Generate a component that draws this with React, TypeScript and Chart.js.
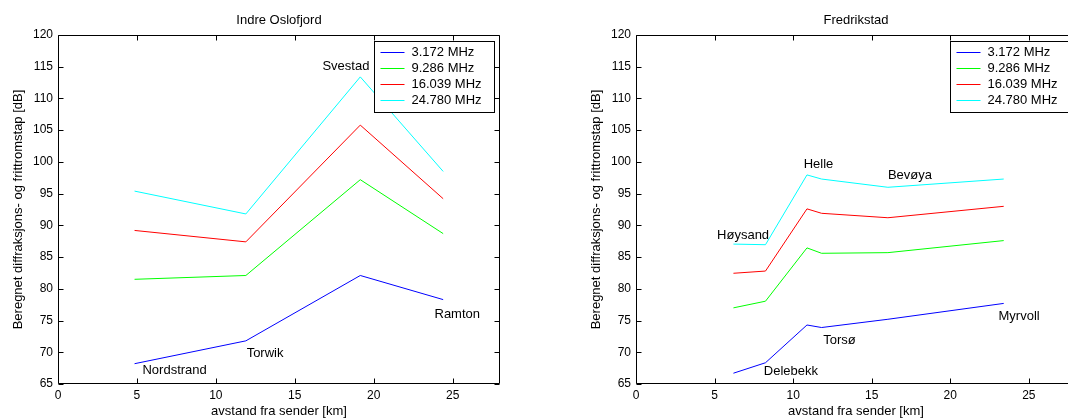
import { useEffect, useRef } from "react";
import { Chart, registerables } from "chart.js";

Chart.register(...registerables);

const FONT = "'Liberation Sans', Arial, Helvetica, sans-serif";

const SERIES_LABELS = ["3.172 MHz", "9.286 MHz", "16.039 MHz", "24.780 MHz"];
const SERIES_COLORS = ["#0000ff", "#00ff00", "#ff0000", "#00ffff"];
const X_TICKS = [0, 5, 10, 15, 20, 25];
const Y_TICKS = [65, 70, 75, 80, 85, 90, 95, 100, 105, 110, 115, 120];
const X_TITLE = "avstand fra sender [km]";
const Y_TITLE = "Beregnet diffraksjons- og frittromstap [dB]";

// Indre Oslofjord
const OSLO_TITLE = "Indre Oslofjord";
const OSLO_DIST = [4.85, 11.9, 19.15, 24.4];
const OSLO_3172 = [68.2, 71.8, 82.1, 78.3];
const OSLO_9286 = [81.5, 82.1, 97.2, 88.7];
const OSLO_16039 = [89.2, 87.4, 105.8, 94.2];
const OSLO_24780 = [95.4, 91.8, 113.4, 98.5];
const OSLO_SITES = ["Nordstrand", "Torwik", "Svestad", "Ramton"];
const OSLO_SITE_X = [5.35, 11.95, 16.75, 23.85];
const OSLO_SITE_Y = [67.2, 69.8, 115.0, 75.9];

// Fredrikstad
const FRED_TITLE = "Fredrikstad";
const FRED_DIST = [6.2, 8.24, 10.88, 11.81, 16.03, 23.4];
const FRED_3172 = [66.7, 68.35, 74.3, 73.9, 75.2, 77.7];
const FRED_9286 = [77.0, 78.05, 86.45, 85.6, 85.7, 87.6];
const FRED_16039 = [82.45, 82.8, 92.6, 91.9, 91.2, 93.0];
const FRED_24780 = [87.05, 86.95, 97.95, 97.3, 96.0, 97.3];
const FRED_SITES = ["Høysand", "Delebekk", "Helle", "Torsø", "Bevøya", "Myrvoll"];
const FRED_SITE_X = [5.16, 8.13, 10.67, 11.92, 16.03, 23.07];
const FRED_SITE_Y = [88.4, 67.0, 99.6, 71.8, 97.9, 75.7];

const matlabPlugin = {
  id: "matlabDecor",
  afterDraw(chart: any, _args: any, opts: any) {
    const { ctx, chartArea, scales } = chart;
    const { left, right, top, bottom } = chartArea;
    const xs = scales.x;
    const ys = scales.y;
    ctx.save();
    ctx.strokeStyle = "#000";
    ctx.lineWidth = 1;
    const L = Math.round(left) + 0.5;
    const R = Math.round(right) - 0.5;
    const T = Math.round(top) + 0.5;
    const B = Math.round(bottom) - 0.5;
    ctx.beginPath();
    ctx.rect(L, T, R - L, B - T);
    ctx.stroke();
    const tl = 5;
    ctx.beginPath();
    X_TICKS.forEach((v) => {
      const px = Math.round(xs.getPixelForValue(v)) + 0.5;
      ctx.moveTo(px, B);
      ctx.lineTo(px, B - tl);
      ctx.moveTo(px, T);
      ctx.lineTo(px, T + tl);
    });
    Y_TICKS.forEach((v) => {
      const py = Math.round(ys.getPixelForValue(v)) + 0.5;
      ctx.moveTo(L, py);
      ctx.lineTo(L + tl, py);
      ctx.moveTo(R, py);
      ctx.lineTo(R - tl, py);
    });
    ctx.stroke();

    // site labels
    ctx.fillStyle = "#000";
    ctx.font = `13px ${FONT}`;
    ctx.textAlign = "left";
    ctx.textBaseline = "middle";
    (opts.sites || []).forEach((s: string, i: number) => {
      ctx.fillText(s, xs.getPixelForValue(opts.siteX[i]), ys.getPixelForValue(opts.siteY[i]));
    });

    // title
    ctx.textAlign = "center";
    ctx.fillText(opts.title, (left + right) / 2, 20);

    // legend
    const bw = 120;
    const bh = 71;
    const bx = Math.round(right - 6 - bw) + 0.5;
    const by = Math.round(top + 6) + 0.5;
    ctx.fillStyle = "#fff";
    ctx.fillRect(bx, by, bw, bh);
    ctx.strokeStyle = "#000";
    ctx.strokeRect(bx, by, bw, bh);
    ctx.textAlign = "left";
    chart.data.datasets.forEach((ds: any, i: number) => {
      const ry = Math.round(by + 10.5 + 16 * i) + 0.5;
      ctx.strokeStyle = ds.borderColor;
      ctx.beginPath();
      ctx.moveTo(bx + 6, ry);
      ctx.lineTo(bx + 30, ry);
      ctx.stroke();
      ctx.fillStyle = "#000";
      ctx.fillText(ds.label, bx + 37, ry);
    });
    ctx.restore();
  },
};

function makeConfig(
  title: string,
  dist: number[],
  series: number[][],
  sites: string[],
  siteX: number[],
  siteY: number[],
  padding: any
): any {
  return {
    type: "line",
    data: {
      datasets: series.map((vals, i) => ({
        label: SERIES_LABELS[i],
        data: dist.map((d, j) => ({ x: d, y: vals[j] })),
        borderColor: SERIES_COLORS[i],
        backgroundColor: SERIES_COLORS[i],
        borderWidth: 1,
        pointRadius: 0,
        tension: 0,
        fill: false,
      })),
    },
    options: {
      responsive: false,
      animation: false,
      devicePixelRatio: 1,
      layout: { padding },
      plugins: {
        legend: { display: false },
        tooltip: { enabled: false },
        title: { display: false },
        matlabDecor: { title, sites, siteX, siteY },
      },
      scales: {
        x: {
          type: "linear",
          min: 0,
          max: 28,
          grid: { display: false, drawTicks: false },
          border: { display: false },
          afterBuildTicks: (s: any) => {
            s.ticks = X_TICKS.map((v) => ({ value: v }));
          },
          afterFit: (s: any) => {
            s.height = 36;
          },
          ticks: {
            color: "#000",
            font: { family: FONT, size: 12 },
            padding: 4,
            maxRotation: 0,
            autoSkip: false,
          },
          title: {
            display: true,
            text: X_TITLE,
            color: "#000",
            font: { family: FONT, size: 13 },
            padding: { top: 0, bottom: 1 },
          },
        },
        y: {
          type: "linear",
          min: 65,
          max: 120,
          grid: { display: false, drawTicks: false },
          border: { display: false },
          afterBuildTicks: (s: any) => {
            s.ticks = Y_TICKS.map((v) => ({ value: v }));
          },
          afterFit: (s: any) => {
            s.width = 58;
          },
          ticks: {
            color: "#000",
            font: { family: FONT, size: 12 },
            padding: 5,
            autoSkip: false,
          },
          title: {
            display: true,
            text: Y_TITLE,
            color: "#000",
            font: { family: FONT, size: 13 },
            padding: { top: 10.5, bottom: 0 },
          },
        },
      },
    },
    plugins: [matlabPlugin],
  };
}

function Panel({ left, width, config }: { left: number; width: number; config: () => any }) {
  const ref = useRef<HTMLCanvasElement>(null);
  useEffect(() => {
    const chart = new Chart(ref.current as HTMLCanvasElement, config());
    return () => chart.destroy();
  }, []);
  return (
    <div style={{ position: "absolute", left, top: 0, width, height: 420 }}>
      <canvas ref={ref} width={width} height={420} style={{ width, height: 420, display: "block" }} />
    </div>
  );
}

export default function App() {
  return (
    <div
      style={{
        position: "fixed",
        left: 0,
        top: 0,
        width: 1068,
        height: 420,
        overflow: "hidden",
        background: "#fff",
      }}
    >
      <Panel
        left={0}
        width={534}
        config={() =>
          makeConfig(
            OSLO_TITLE,
            OSLO_DIST,
            [OSLO_3172, OSLO_9286, OSLO_16039, OSLO_24780],
            OSLO_SITES,
            OSLO_SITE_X,
            OSLO_SITE_Y,
            { left: 0, top: 35, right: 34, bottom: 0 }
          )
        }
      />
      <Panel
        left={534}
        width={560}
        config={() =>
          makeConfig(
            FRED_TITLE,
            FRED_DIST,
            [FRED_3172, FRED_9286, FRED_16039, FRED_24780],
            FRED_SITES,
            FRED_SITE_X,
            FRED_SITE_Y,
            { left: 44, top: 35, right: 18, bottom: 0 }
          )
        }
      />
    </div>
  );
}
